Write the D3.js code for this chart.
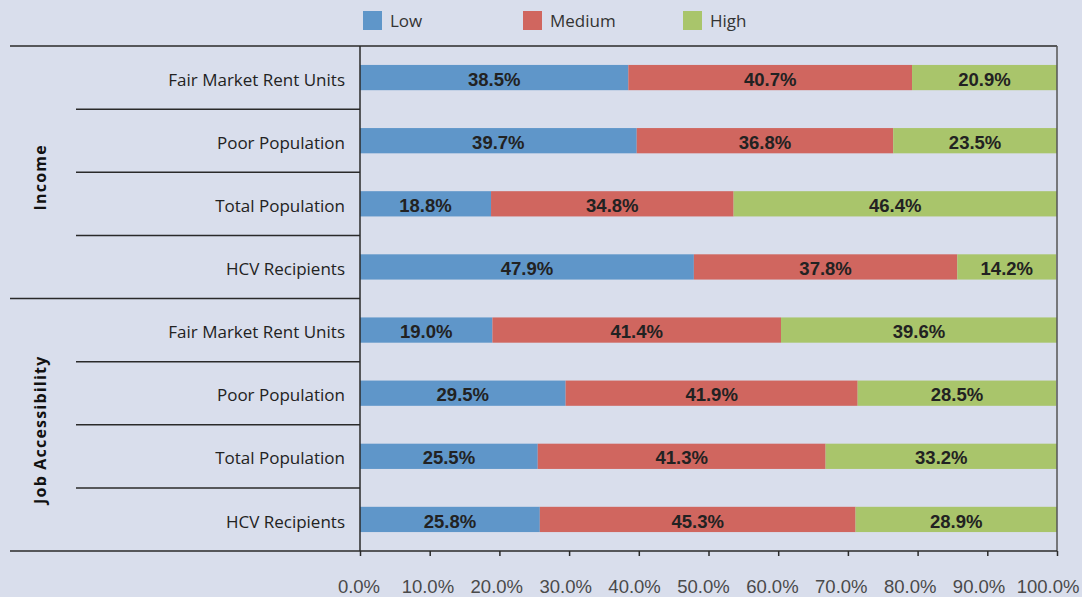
<!DOCTYPE html>
<html>
<head>
<meta charset="utf-8">
<script src="https://cdn.jsdelivr.net/npm/d3@7"></script>
<style>
  body { margin: 0; background: #d9deec; }
  svg { display: block; }
</style>
</head>
<body>
<div id="chart"></div>
<script>
// data
const groups = ["Income", "Job Accessibility"];
const categories = ["Fair Market Rent Units", "Poor Population", "Total Population", "HCV Recipients"];
const levels = ["Low", "Medium", "High"];
const lowValues = [38.5, 39.7, 18.8, 47.9, 19.0, 29.5, 25.5, 25.8];
const mediumValues = [40.7, 36.8, 34.8, 37.8, 41.4, 41.9, 41.3, 45.3];
const highValues = [20.9, 23.5, 46.4, 14.2, 39.6, 28.5, 33.2, 28.9];
const xTicks = [0, 10, 20, 30, 40, 50, 60, 70, 80, 90, 100];

const COLORS = { Low: "#5f96c9", Medium: "#d0665f", High: "#a9c56b" };

const W = 1082, H = 597;
const MARGIN = { top: 46, right: 25, bottom: 46, left: 360 };

const svg = d3.select("#chart").append("svg")
    .attr("width", W)
    .attr("height", H);

// one row per group/category pair
const rows = [];
groups.forEach((g, gi) => {
    categories.forEach((c, ci) => {
        const i = gi * categories.length + ci;
        rows.push({ key: g + "|" + c, group: g, cat: c, Low: lowValues[i], Medium: mediumValues[i], High: highValues[i] });
    });
});

const x = d3.scaleLinear().domain([0, 100]).range([MARGIN.left, W - MARGIN.right]);
// tick labels in the original sit a little tighter than the ticks
const xLabel = d3.scaleLinear().domain([0, 100]).range([MARGIN.left - 1, W - MARGIN.right - 9]);
const y = d3.scaleBand().domain(rows.map(d => d.key)).range([MARGIN.top, H - MARGIN.bottom]).paddingInner(0.6).paddingOuter(0.3);
const rowStep = (H - MARGIN.top - MARGIN.bottom) / rows.length;

const stacked = d3.stack().keys(levels)(rows);

// bars
const layer = svg.append("g").selectAll("g")
    .data(stacked)
    .join("g")
    .attr("fill", d => COLORS[d.key]);

layer.selectAll("rect")
    .data(d => d.map(p => Object.assign(p, { level: d.key })))
    .join("rect")
    .attr("x", d => x(d[0]))
    .attr("y", d => y(d.data.key))
    .attr("width", d => Math.min(x(d[1]), x(100)) - x(d[0]))
    .attr("height", y.bandwidth());

// bar value labels
layer.selectAll("text")
    .data(d => d)
    .join("text")
    .attr("x", d => (x(d[0]) + Math.min(x(d[1]), x(100))) / 2)
    .attr("y", d => y(d.data.key) + y.bandwidth() / 2 + 1.5)
    .attr("dy", "0.36em")
    .attr("text-anchor", "middle")
    .attr("fill", "#222")
    .style("font-family", "'Liberation Sans', Arial, sans-serif")
    .style("font-weight", "bold")
    .style("font-size", "18.5px")
    .text(d => d.data[d.level].toFixed(1) + "%");

// frame lines
const lineColor = "#2a2a2a";
const plotTop = MARGIN.top, plotBottom = H - MARGIN.bottom;
svg.append("line").attr("x1", 10).attr("x2", x(100)).attr("y1", plotTop).attr("y2", plotTop)
    .attr("stroke", lineColor).attr("stroke-width", 1.5);
svg.append("line").attr("x1", x(0)).attr("x2", x(0)).attr("y1", plotTop).attr("y2", plotBottom)
    .attr("stroke", lineColor).attr("stroke-width", 1.5);
svg.append("line").attr("x1", x(100)).attr("x2", x(100)).attr("y1", plotTop).attr("y2", plotBottom)
    .attr("stroke", "#555").attr("stroke-width", 1.5);

// row separators (short) and group separator (long)
d3.range(1, rows.length).forEach(k => {
    const yy = plotTop + k * rowStep;
    const isGroupEdge = k % categories.length === 0;
    svg.append("line")
        .attr("x1", isGroupEdge ? 10 : 76).attr("x2", x(0))
        .attr("y1", yy).attr("y2", yy)
        .attr("stroke", lineColor).attr("stroke-width", 1.5);
});

// bottom axis: tick marks from the axis, labels placed with xLabel
const xAxis = svg.append("g")
    .attr("transform", "translate(0," + plotBottom + ")")
    .call(d3.axisBottom(x).tickValues(xTicks).tickSize(5).tickFormat(""));
xAxis.select(".domain").remove();
xAxis.selectAll(".tick line").attr("stroke", lineColor).attr("stroke-width", 1.5);
svg.append("g").selectAll("text")
    .data(xTicks)
    .join("text")
    .attr("x", d => xLabel(d))
    .attr("y", plotBottom + 35)
    .attr("dy", "0.36em")
    .attr("text-anchor", "middle")
    .attr("fill", "#4a4a4a")
    .style("font-family", "'Liberation Sans', Arial, sans-serif")
    .style("font-size", "18.5px")
    .text(d => d.toFixed(1) + "%");
svg.append("line").attr("x1", 10).attr("x2", x(100)).attr("y1", plotBottom).attr("y2", plotBottom)
    .attr("stroke", lineColor).attr("stroke-width", 1.5);

// category labels
svg.append("g").selectAll("text")
    .data(rows)
    .join("text")
    .attr("x", x(0) - 15)
    .attr("y", d => y(d.key) + y.bandwidth() / 2 + 2)
    .attr("dy", "0.36em")
    .attr("text-anchor", "end")
    .attr("fill", "#222")
    .style("font-family", "'Open Sans', sans-serif")
    .style("font-size", "17px")
    .text(d => d.cat);

// group labels (rotated)
groups.forEach((g, gi) => {
    const cy = plotTop + (gi + 0.5) * categories.length * rowStep + 5;
    svg.append("text")
        .attr("transform", "translate(46," + cy + ") rotate(-90)")
        .attr("text-anchor", "middle")
        .attr("fill", "#111")
        .style("font-family", "'Open Sans', sans-serif")
        .style("font-weight", "bold")
        .style("font-size", "16px")
        .style("letter-spacing", "1.2px")
        .text(g);
});

// legend
const legendX = [363, 523, 683];
const legend = svg.append("g").selectAll("g")
    .data(levels)
    .join("g")
    .attr("transform", (d, i) => "translate(" + legendX[i] + ",11)");
legend.append("rect").attr("width", 19).attr("height", 19).attr("fill", d => COLORS[d]);
legend.append("text")
    .attr("x", 27).attr("y", 9.5).attr("dy", "0.36em")
    .attr("fill", "#333")
    .style("font-family", "'Open Sans', sans-serif")
    .style("font-size", "17px")
    .text(d => d);
</script>
</body>
</html>
